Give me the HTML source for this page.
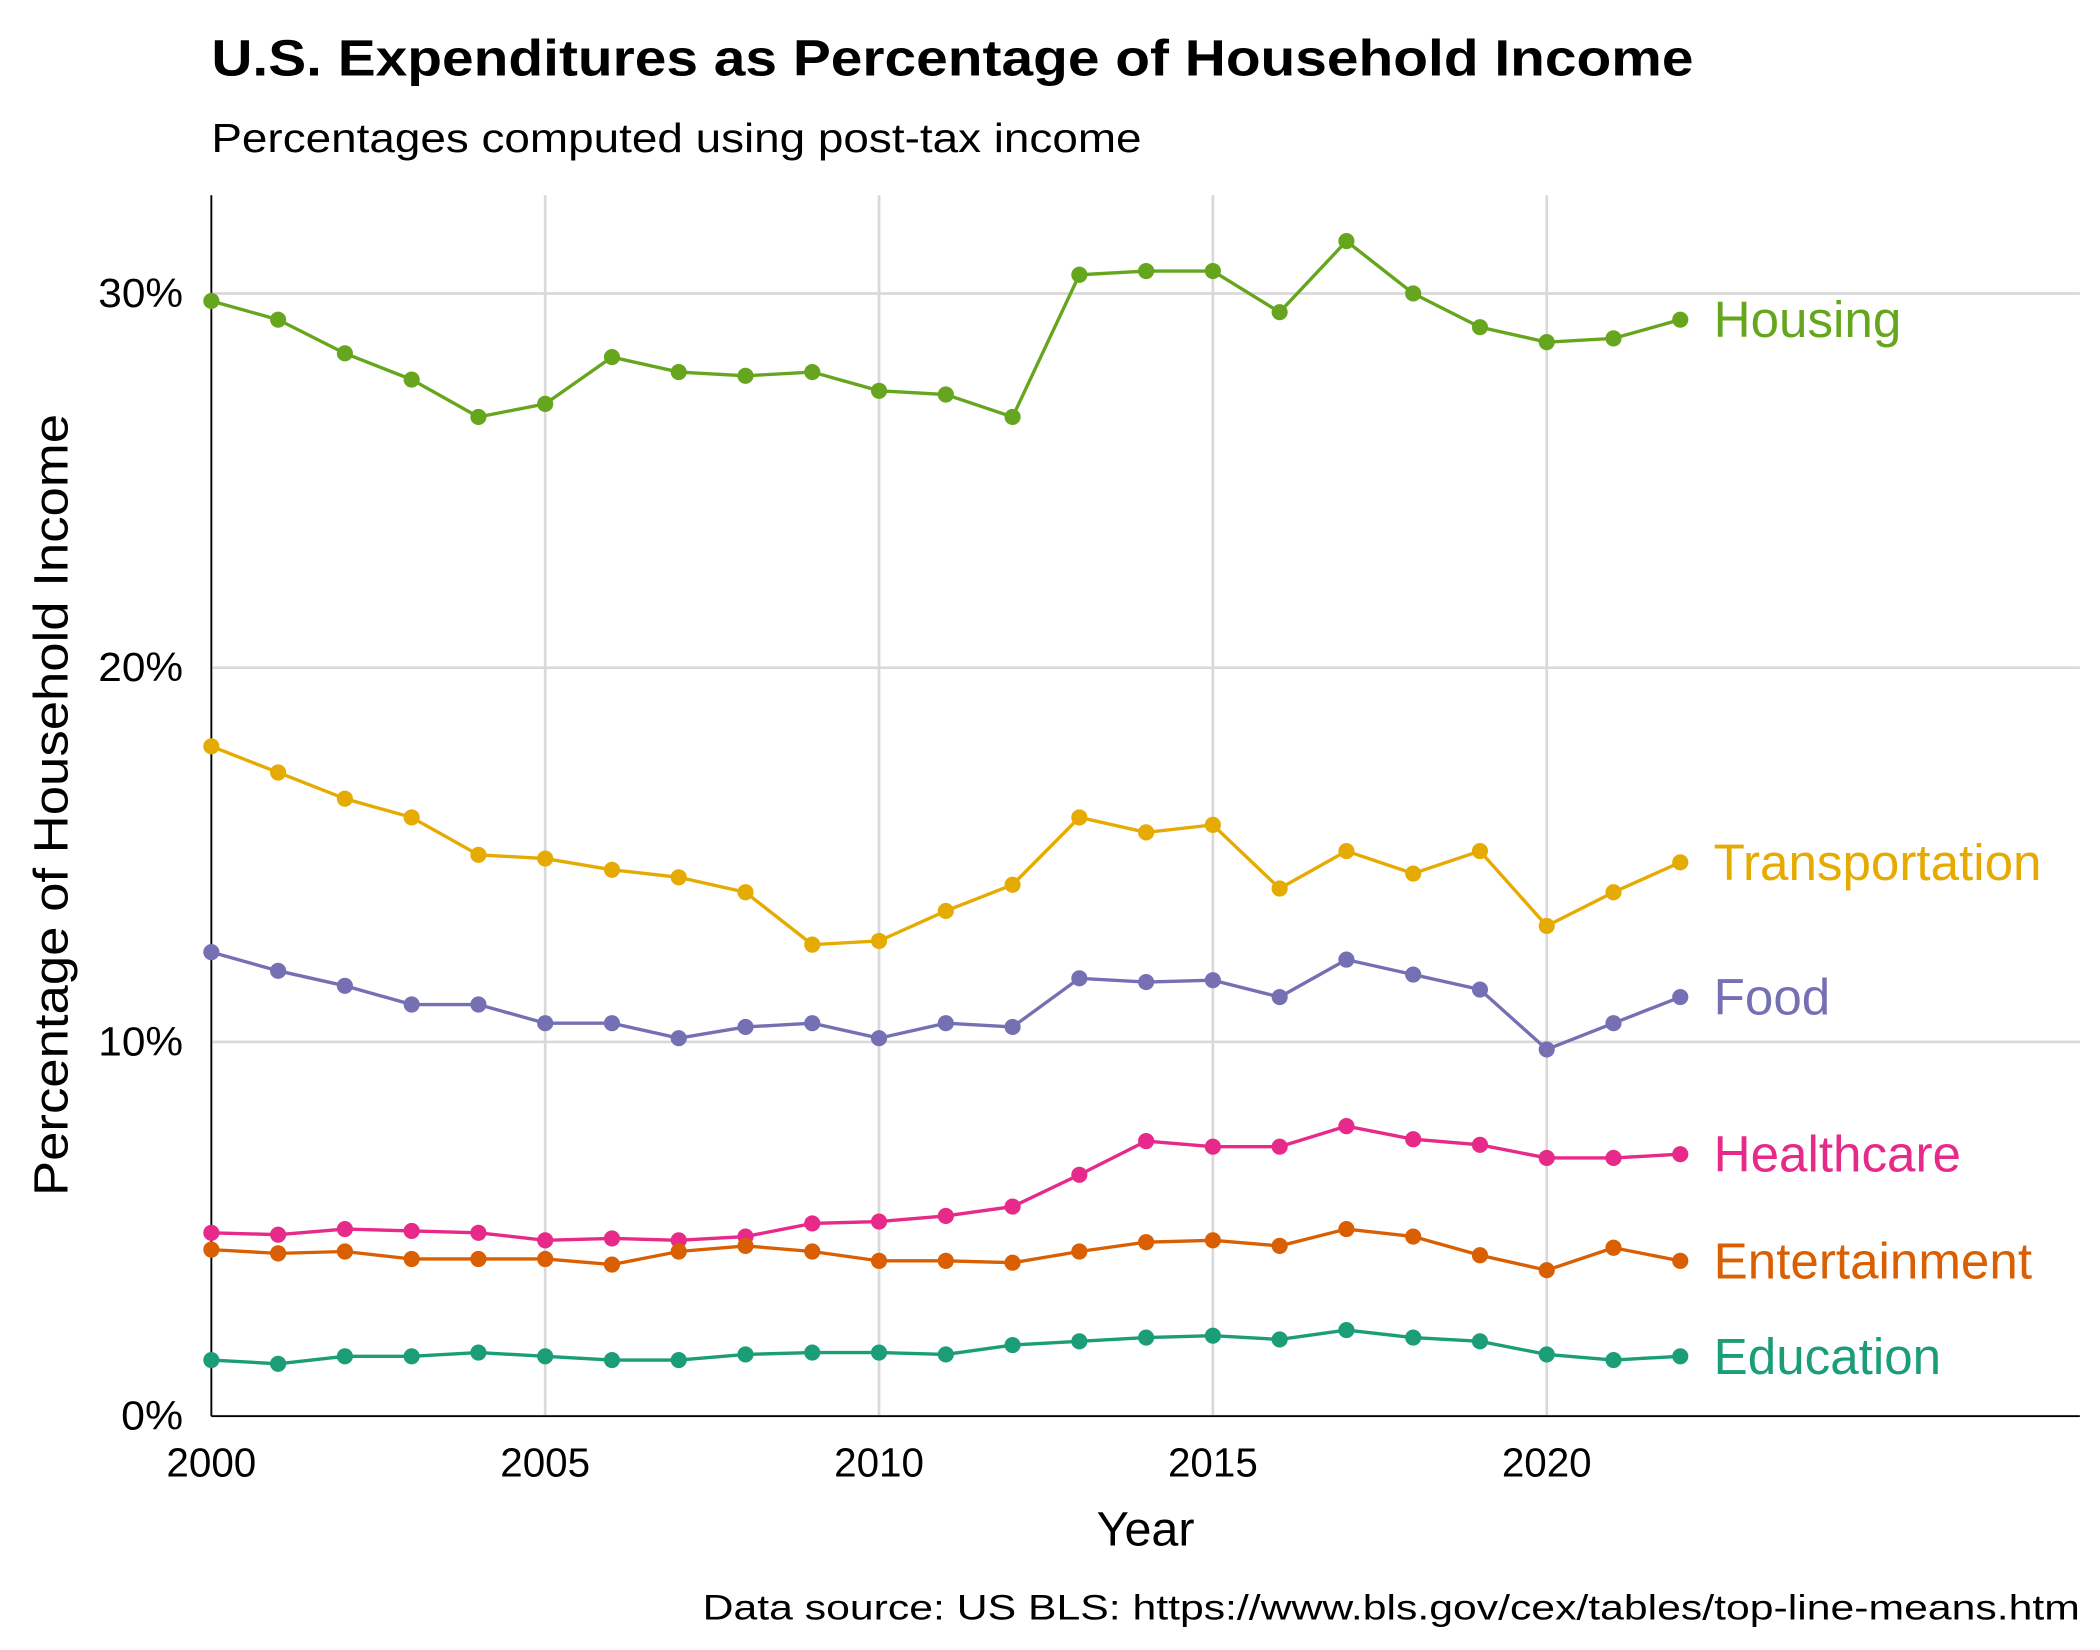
<!DOCTYPE html>
<html><head><meta charset="utf-8"><style>html,body{margin:0;padding:0;background:#fff}svg{display:block}text{font-family:"Liberation Sans",sans-serif}</style></head>
<body>
<svg id="chart" width="2100" height="1650" viewBox="0 0 1560 1225.7" xmlns="http://www.w3.org/2000/svg">
<rect width="1560" height="1226" fill="#fff"/>
<text x="157" y="56" font-size="38" font-weight="bold" textLength="1101" lengthAdjust="spacingAndGlyphs">U.S. Expenditures as Percentage of Household Income</text>
<text x="157" y="113" font-size="30" textLength="691" lengthAdjust="spacingAndGlyphs">Percentages computed using post-tax income</text>
<g id="grid"></g><g id="axes"></g><g id="series"></g>
<text x="851" y="1148" font-size="36" text-anchor="middle">Year</text>
<text transform="translate(50,598) rotate(-90)" font-size="36" text-anchor="middle" textLength="581" lengthAdjust="spacingAndGlyphs">Percentage of Household Income</text>
<text x="1545" y="1203" font-size="26" text-anchor="end" textLength="1023" lengthAdjust="spacingAndGlyphs">Data source: US BLS: https://www.bls.gov/cex/tables/top-line-means.htm</text>
</svg>
<script>
const years=[2000,2001,2002,2003,2004,2005,2006,2007,2008,2009,2010,2011,2012,2013,2014,2015,2016,2017,2018,2019,2020,2021,2022];
const seriesNames=["Housing","Transportation","Food","Healthcare","Entertainment","Education"];
const housing=[29.8,29.3,28.4,27.7,26.7,27.05,28.3,27.9,27.8,27.9,27.4,27.3,26.7,30.5,30.6,30.6,29.5,31.4,30.0,29.1,28.7,28.8,29.3];
const transportation=[17.9,17.2,16.5,16.0,15.0,14.9,14.6,14.4,14.0,12.6,12.7,13.5,14.2,16.0,15.6,15.8,14.1,15.1,14.5,15.1,13.1,14.0,14.8];
const food=[12.4,11.9,11.5,11.0,11.0,10.5,10.5,10.1,10.4,10.5,10.1,10.5,10.4,11.7,11.6,11.65,11.2,12.2,11.8,11.4,9.8,10.5,11.2];
const healthcare=[4.9,4.85,5.0,4.95,4.9,4.7,4.75,4.7,4.8,5.15,5.2,5.35,5.6,6.45,7.35,7.2,7.2,7.75,7.4,7.25,6.9,6.9,7.0];
const entertainment=[4.45,4.35,4.4,4.2,4.2,4.2,4.05,4.4,4.55,4.4,4.15,4.15,4.1,4.4,4.65,4.7,4.55,5.0,4.8,4.3,3.9,4.5,4.15];
const education=[1.5,1.4,1.6,1.6,1.7,1.6,1.5,1.5,1.65,1.7,1.7,1.65,1.9,2.0,2.1,2.15,2.05,2.3,2.1,2.0,1.65,1.5,1.6];
const xTicks=[2000,2005,2010,2015,2020];
const yTicks=[0,10,20,30];
const colors=["#66a61e","#e6ab02","#7570b3","#e7298a","#d95f02","#1b9e77"];
const allSeries=[housing,transportation,food,healthcare,entertainment,education];
const NS="http://www.w3.org/2000/svg";
const L=157,R=1545,T=145,B=1052;
const x=v=>157+(v-2000)*(1149-157)/20;
const y=v=>1052-v*27.8;
function mk(tag,attrs,parent){const e=document.createElementNS(NS,tag);for(const k in attrs)e.setAttribute(k,attrs[k]);parent.appendChild(e);return e;}
const grid=document.getElementById('grid'),axes=document.getElementById('axes'),ser=document.getElementById('series');
xTicks.forEach(t=>{
 const l=mk('line',{x1:x(t),x2:x(t),y1:T,y2:B,stroke:'#d9d9d9','stroke-width':2},grid);
 
 
 const tx=mk('text',{x:x(t),y:1097,'font-size':30,'text-anchor':'middle'},axes);
 tx.textContent=t;
 
 
});
yTicks.forEach(t=>{
 const l=mk('line',{x1:L,x2:R,y1:y(t),y2:y(t),stroke:'#d9d9d9','stroke-width':2},grid);
 
 
 const tx=mk('text',{x:136,y:y(t)+10,'font-size':30,'text-anchor':'end',textLength:(t===0?46:63),lengthAdjust:'spacingAndGlyphs'},axes);
 tx.textContent=t+'%';
 
 
});
const ya=mk('line',{x1:L,x2:L,y1:T,y2:B,stroke:'#000','stroke-width':1.3},axes);


const xa=mk('line',{x1:L,x2:R,y1:B,y2:B,stroke:'#000','stroke-width':1.3},axes);


allSeries.forEach((vals,i)=>{
 const g=mk('g',{},ser);
 
 
 const p=mk('polyline',{points:vals.map((v,j)=>x(years[j])+','+y(v)).join(' '),fill:'none',stroke:colors[i],'stroke-width':2.5},g);
 
 
 vals.forEach((v,j)=>{
  const c=mk('circle',{cx:x(years[j]),cy:y(v),r:6,fill:colors[i]},g);
  
  
 });
 const lb=mk('text',{x:1273,y:y(vals[vals.length-1])+13,'font-size':38,fill:colors[i]},g);
 lb.textContent=seriesNames[i];
 
 
});
</script>
</body></html>
